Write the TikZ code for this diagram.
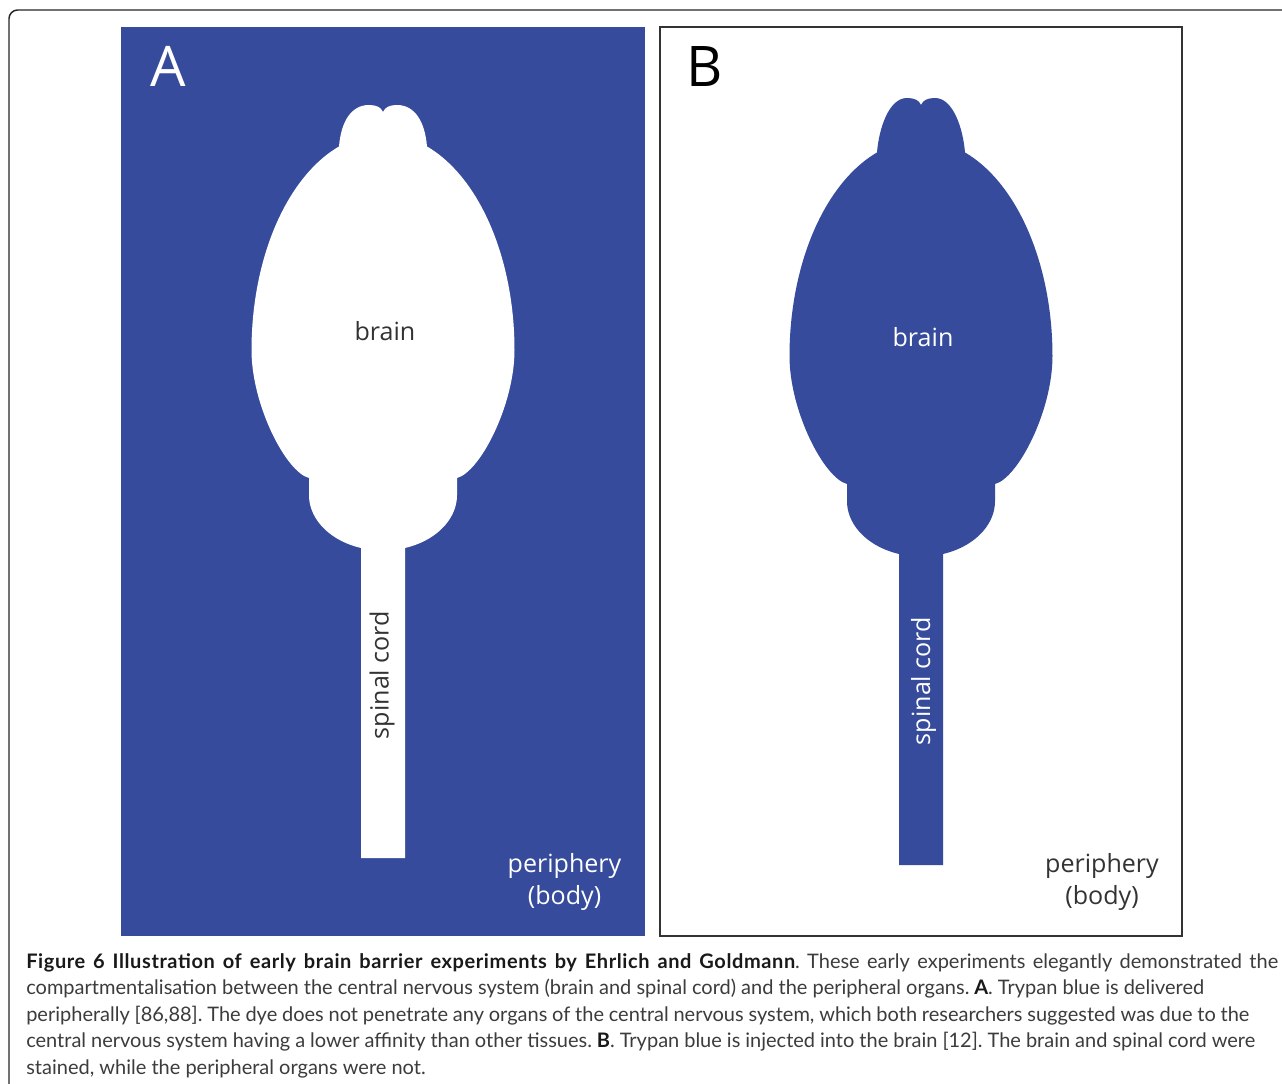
\documentclass[tikz,border=0pt]{standalone}
\usepackage{fontspec}
\setmainfont{Open Sans}
\newfontfamily\capfont{Lato}
\newfontfamily\capbold[LetterSpace=3]{Lato Bold}
\definecolor{dyeblue}{RGB}{54,75,155}
\definecolor{inkgray}{HTML}{333333}
\definecolor{capgray}{HTML}{3C3C3C}
\frenchspacing

% Outline of brain + spinal cord (pixel units, y downwards).
% #1 = top of the olfactory lobes, #2 = lower end of the spinal cord
\newcommand{\cnsoutline}[2]{%
  (339,146.5) .. controls (341,122) and (351,#1) .. (369,#1)
  .. controls (376,#1) and (381,{#1+2}) .. (383,{#1+7})
  .. controls (385,{#1+2}) and (390,#1) .. (397,#1)
  .. controls (415,#1) and (425,122) .. (427,146.5)
  -- plot[domain=-70.45:0,samples=40] ({383+131.5*cos(\x)},{350+216*sin(\x)})
  .. controls (514.5,405) and (480,472) .. (457,478)
  -- (457,495)
  -- plot[domain=0:72.7,samples=30] ({383+74*cos(\x)},{495+55.5*sin(\x)})
  -- (405,#2) -- (361,#2) -- (361,548)
  -- plot[domain=107.3:180,samples=30] ({383+74*cos(\x)},{495+55.5*sin(\x)})
  -- (309,478)
  .. controls (286,472) and (251.5,405) .. (251.5,350)
  -- plot[domain=180:250.45,samples=40] ({383+131.5*cos(\x)},{350+216*sin(\x)})
  -- cycle}

\newcommand{\capstrong}[1]{\textcolor{black!90}{\capbold #1}}

\tikzset{
  lab/.style={inner sep=0pt, font=\fontsize{18.8}{22}\selectfont},
  panelletter/.style={inner sep=0pt, anchor=base west, font=\fontsize{42}{48}\selectfont},
  capline/.style={inner sep=0pt, anchor=base west, text=capgray,
    font=\capfont\fontsize{15}{18}\selectfont},
}

\begin{document}
\begin{tikzpicture}[x=0.75pt,y=-0.75pt]
  \useasboundingbox (0,0) rectangle (1282,1084);
  \fill[white] (0,0) rectangle (1282,1084);

  % figure frame
  \draw[line width=1.1pt, draw=black!85, rounded corners=6.5pt]
    (9,1084) -- (9,10) -- (1282,10);

  % panel A: dye in the periphery
  \fill[dyeblue] (121,27) rectangle (645,936);
  \fill[white] \cnsoutline{105}{858};
  \node[panelletter, text=white] (letterA) at (150,87) {A};
  \node[lab, anchor=base, text=inkgray] (brainA) at (385,341) {brain};
  \node[lab, rotate=90, text=inkgray] (cordA) at (382,675) {spinal cord};
  \node[lab, anchor=base, text=white] (periA) at (564.5,872) {periphery};
  \node[lab, anchor=base, text=white] (bodyA) at (564.5,904) {(body)};

  % panel B: dye in the brain
  \draw[line width=1.5pt, draw=inkgray] (660,27) rectangle (1182,936);
  \begin{scope}[shift={(538,6)}]
    \fill[dyeblue] \cnsoutline{92}{859};
  \end{scope}
  \node[panelletter, text=black] (letterB) at (686,87) {B};
  \node[lab, anchor=base, text=white] (brainB) at (923,347) {brain};
  \node[lab, rotate=90, text=white] (cordB) at (923.5,681) {spinal cord};
  \node[lab, anchor=base, text=inkgray] (periB) at (1102,872) {periphery};
  \node[lab, anchor=base, text=inkgray] (bodyB) at (1102,904) {(body)};

  % caption
  \node[capline] (cap1) at (26,968) {\makebox[939pt][s]{\capstrong{Figure 6 Illustration of early brain barrier experiments by Ehrlich and Goldmann}. These early experiments elegantly demonstrated the}};
  \node[capline] (cap2) at (26,994.5) {\makebox[883.5pt][s]{compartmentalisation between the central nervous system (brain and spinal cord) and the peripheral organs. \capstrong{A}. Trypan blue is delivered}};
  \node[capline] (cap3) at (26,1021) {\makebox[917.25pt][s]{peripherally [86,88]. The dye does not penetrate any organs of the central nervous system, which both researchers suggested was due to the}};
  \node[capline] (cap4) at (26,1047.5) {\makebox[921.75pt][s]{central nervous system having a lower affinity than other tissues. \capstrong{B}. Trypan blue is injected into the brain [12]. The brain and spinal cord were}};
  \node[capline] (cap5) at (26,1074) {stained, while the peripheral organs were not.};
\end{tikzpicture}
\end{document}
